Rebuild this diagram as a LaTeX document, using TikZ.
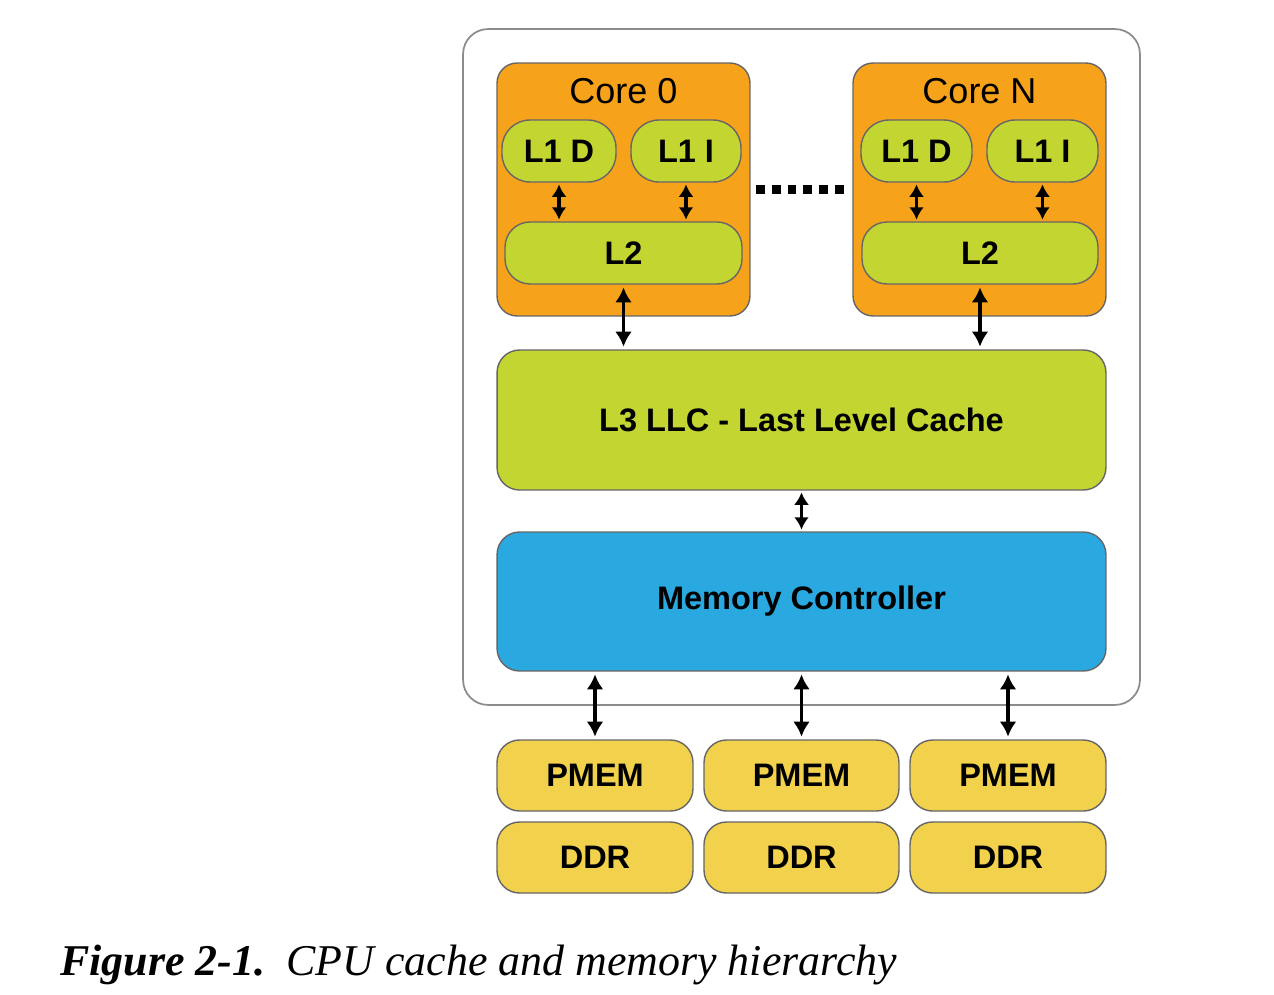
\documentclass[tikz,border=0pt]{standalone}
\usepackage{fontspec}
\setmainfont{Liberation Serif}
\setsansfont{Liberation Sans}
\usetikzlibrary{arrows.meta}
\definecolor{coreorange}{HTML}{F7A21B}
\definecolor{cachegreen}{HTML}{C3D530}
\definecolor{mcblue}{HTML}{2AA8E0}
\definecolor{memyellow}{HTML}{F2D24C}
\tikzset{
        box/.style={rectangle, draw=black!60, line width=0.8pt, inner sep=0pt, text centered,
                    font=\sffamily\bfseries\fontsize{18.5}{20}\selectfont},
        corebox/.style={box, fill=coreorange, rounded corners=0.4cm, minimum width=5.06cm, minimum height=5.06cm},
        lonebox/.style={box, fill=cachegreen, rounded corners=0.56cm, minimum height=1.24cm},
        bigbox/.style={box, rounded corners=0.45cm, minimum width=12.18cm, minimum height=2.8cm},
        membox/.style={box, fill=memyellow, rounded corners=0.45cm, minimum width=3.92cm, minimum height=1.42cm},
        link/.style={{Latex[length=8.5pt,width=9.5pt]}-{Latex[length=8.5pt,width=9.5pt]}, line width=2.2pt,
                     shorten <=1.5pt, shorten >=1.5pt},
        shortlink/.style={{Latex[length=7pt,width=8.5pt]}-{Latex[length=7pt,width=8.5pt]}, line width=2.2pt,
                     shorten <=1pt, shorten >=1pt}
    }
\begin{document}
\begin{tikzpicture}[x=0.02cm,y=-0.02cm]
\useasboundingbox (0,0) rectangle (1274,994);
\node (chip)[rectangle, draw=black!45, line width=1pt, rounded corners=0.5cm,
       minimum width=13.54cm, minimum height=13.52cm] at (801.5,367) {};

\node (core0)[corebox] at (623.5,189.5) {};
\node (coreN)[corebox] at (979.5,189.5) {};
\node[font=\sffamily\fontsize{20.5}{22}\selectfont] (core0lab) at (623.5,91) {Core 0};
\node[font=\sffamily\fontsize{20.5}{22}\selectfont] (coreNlab) at (979.5,91) {Core N};

\node (L1D0)[lonebox, minimum width=2.28cm] at (559,151) {L1 D};
\node (L1I0)[lonebox, minimum width=2.2cm] at (686,151) {L1 I};
\node (L1DN)[lonebox, minimum width=2.22cm] at (916.5,151) {L1 D};
\node (L1IN)[lonebox, minimum width=2.22cm] at (1042.5,151) {L1 I};
\node (L20)[lonebox, rounded corners=0.5cm, minimum width=4.74cm] at (623.5,253) {L2};
\node (L2N)[lonebox, rounded corners=0.5cm, minimum width=4.72cm] at (980,253) {L2};

\node (L3)[bigbox, fill=cachegreen] at (801.5,420) {L3 LLC - Last Level Cache};
\node (MC)[bigbox, fill=mcblue, minimum height=2.78cm] at (801.5,601.5) {Memory Controller};

\node (PMEM1)[membox] at (595,775.5) {PMEM};
\node (PMEM2)[membox, minimum width=3.9cm] at (801.5,775.5) {PMEM};
\node (PMEM3)[membox] at (1008,775.5) {PMEM};
\node (DDR1)[membox] at (595,857.5) {DDR};
\node (DDR2)[membox, minimum width=3.9cm] at (801.5,857.5) {DDR};
\node (DDR3)[membox] at (1008,857.5) {DDR};

\draw[shortlink] (L1D0.south) -- (L1D0.south |- L20.north);
\draw[shortlink] (L1I0.south) -- (L1I0.south |- L20.north);
\draw[shortlink] (L1DN.south) -- (L1DN.south |- L2N.north);
\draw[shortlink] (L1IN.south) -- (L1IN.south |- L2N.north);
\draw[link] (L20.south) -- (L20.south |- L3.north);
\draw[link] (L2N.south) -- (L2N.south |- L3.north);
\draw[shortlink] (L3.south) -- (MC.north);
\draw[link] (PMEM1.north |- MC.south) -- (PMEM1.north);
\draw[link] (MC.south) -- (PMEM2.north);
\draw[link] (PMEM3.north |- MC.south) -- (PMEM3.north);
\draw[line width=5pt, dash pattern=on 5pt off 4pt, shorten <=3pt, shorten >=1pt]
     (core0.east) -- (coreN.west);

\node (caption)[anchor=base west, font=\itshape\fontsize{25}{28}\selectfont] at (54,975)
     {\textbf{Figure 2-1.}\hspace{12pt}CPU cache and memory hierarchy};
\end{tikzpicture}
\end{document}
